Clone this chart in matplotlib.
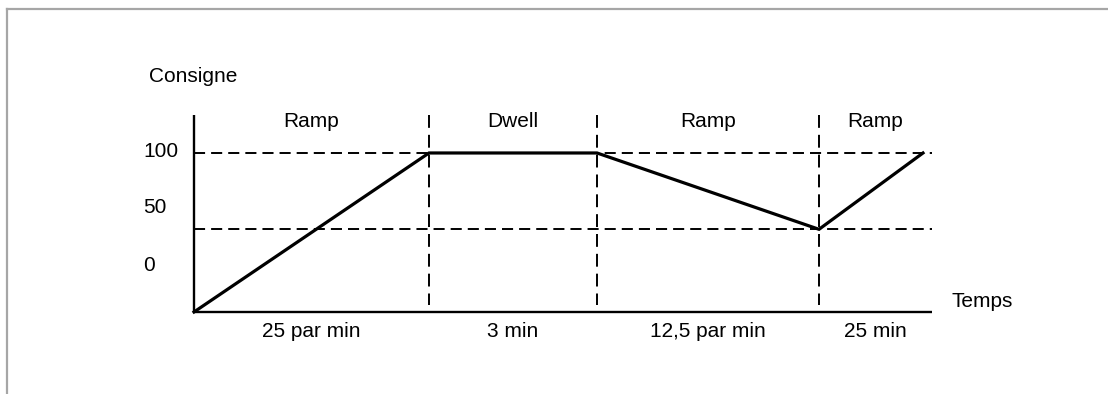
import matplotlib
matplotlib.use("Agg")
from matplotlib import pyplot as plt
from matplotlib.lines import Line2D

# profile data
t_breaks = [0, 235, 403, 625, 729]
setpoint = [0, 100, 100, 52, 100]
t_end = 738
levels = [100, 52]
seg_top = ["Ramp", "Dwell", "Ramp", "Ramp"]
seg_bottom = ["25 par min", "3 min", "12,5 par min", "25 min"]
y_labels = ["100", "50", "0"]
y_label_pos = [97.5, 62.3, 25.8]

plt.rcParams['font.family'] = ['Liberation Sans', 'DejaVu Sans']

fig = plt.figure(figsize=(11.08, 3.94), dpi=100)
ax = fig.add_axes([0, 0, 1, 1])
ax.set_xlim(-194, 914)
ax.set_ylim(-51.57, 196.2)
ax.axis('off')

# frame around the picture
grey = '#a6a6a6'
fig.add_artist(Line2D([7 / 1108, 1], [1 - 9 / 394] * 2, color=grey, lw=1.6))
fig.add_artist(Line2D([7 / 1108] * 2, [0, 1 - 9 / 394], color=grey, lw=1.6))

# axes lines
ax.plot([0, 0], [0, 124], color='black', lw=1.7, solid_capstyle='butt')
ax.plot([0, t_end], [0, 0], color='black', lw=1.7, solid_capstyle='butt')

# dashed guides
dash = (5.7, 3.1)
for lv in levels:
    ax.plot([0, t_end], [lv, lv], color='black', lw=1.4, dashes=dash)
for tb in t_breaks[1:4]:
    ax.plot([tb, tb], [124, 4.4], color='black', lw=1.4, dashes=(6.6, 3.6))

# setpoint profile
ax.plot(t_breaks, setpoint, color='black', lw=2.3, solid_joinstyle='miter')

fs = 15
edges = t_breaks[:4] + [t_end]
for i in range(4):
    mid = (edges[i] + edges[i + 1]) / 2
    ax.text(mid, 116.4, seg_top[i], ha='center', va='baseline', fontsize=fs)
    ax.text(mid, -15.7, seg_bottom[i], ha='center', va='baseline', fontsize=fs)

for lab, yp in zip(y_labels, y_label_pos):
    ax.text(-51, yp, lab, ha='left', va='baseline', fontsize=fs)

ax.text(-45, 144.7, "Consigne", ha='left', va='baseline', fontsize=fs)
ax.text(758, 3.3, "Temps", ha='left', va='baseline', fontsize=fs)

fig.savefig("out.png", dpi=100)
